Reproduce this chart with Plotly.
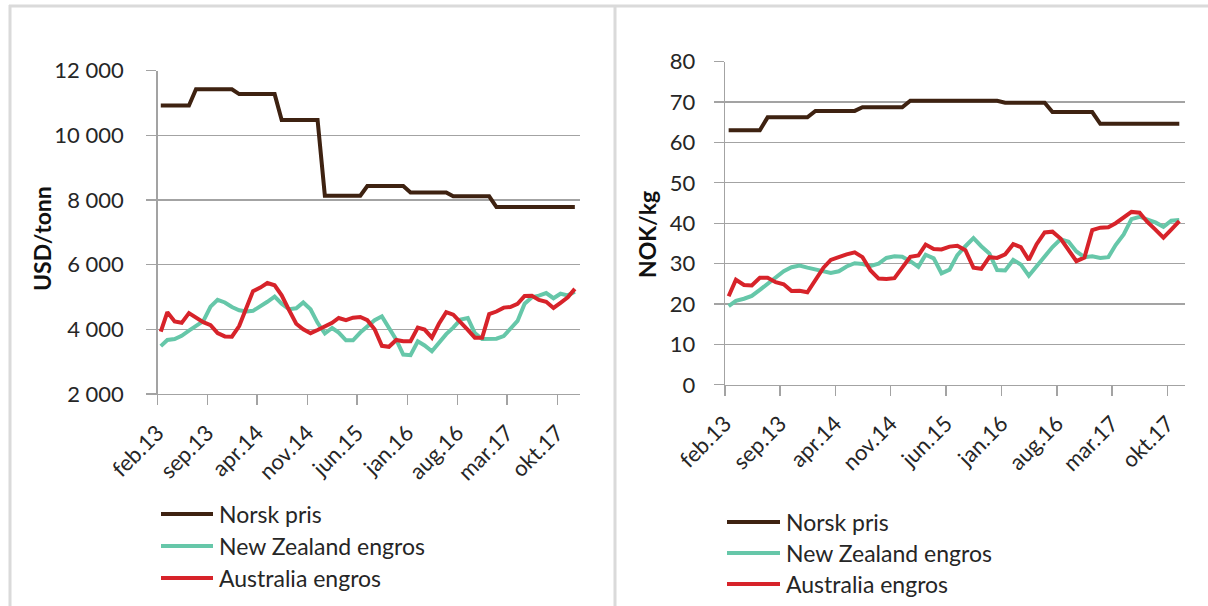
import pandas as pd
import plotly.graph_objects as go

W, H = 1208, 606

# ---------------- data ----------------
tick_text = ["feb.13", "sep.13", "apr.14", "nov.14", "jun.15", "jan.16", "aug.16", "mar.17", "okt.17"]
series_names = ["Norsk pris", "New Zealand engros", "Australia engros"]

# Left panel: USD/tonn, monthly feb.13 - des.17
usd_norsk = ([10920] * 5 + [11420] * 6 + [11270] * 6 + [10470] * 6 + [8130] * 6 +
             [8430] * 6 + [8230] * 6 + [8110] * 6 + [7780] * 12)
usd_nz = [3480, 3670, 3700, 3800, 3960, 4120, 4250, 4700, 4910, 4830,
          4690, 4590, 4550, 4570, 4700, 4850, 5010, 4790, 4620, 4650,
          4830, 4620, 4200, 3870, 4040, 3900, 3660, 3660, 3900, 4100,
          4280, 4400, 4070, 3680, 3220, 3200, 3630, 3500, 3320, 3600,
          3850, 4050, 4300, 4350, 3880, 3700, 3690, 3710, 3790, 4000,
          4260, 4790, 4990, 5040, 5120, 4960, 5100, 5050, 5160]
usd_au = [3930, 4530, 4240, 4200, 4500, 4350, 4220, 4130, 3880, 3780,
          3770, 4100, 4680, 5180, 5290, 5430, 5360, 5050, 4600, 4170,
          4000, 3880, 3980, 4100, 4200, 4350, 4280, 4360, 4380, 4280,
          4000, 3490, 3460, 3670, 3630, 3630, 4050, 3990, 3740, 4170,
          4530, 4450, 4230, 3980, 3740, 3740, 4470, 4550, 4670, 4690,
          4790, 5030, 5040, 4910, 4850, 4660, 4820, 4990, 5250]

# Right panel: NOK/kg, monthly feb.13 - nov.17
nok_norsk = ([63.0] * 5 + [66.2] * 6 + [67.8] * 6 + [68.7] * 6 + [70.3] * 12 +
             [69.8] * 6 + [67.5] * 6 + [64.6] * 11)
nok_nz = [19.5, 20.8, 21.3, 22.0, 23.5, 25.1, 26.5, 28.1, 29.1, 29.5,
          29.0, 28.6, 28.1, 27.7, 28.1, 29.3, 30.1, 29.9, 29.4, 30.0,
          31.4, 31.8, 31.7, 30.6, 29.2, 32.2, 31.3, 27.6, 28.5, 32.1,
          34.3, 36.3, 34.3, 32.5, 28.4, 28.3, 30.9, 29.8, 27.0, 29.3,
          31.8, 34.1, 36.0, 35.4, 33.0, 31.6, 31.8, 31.4, 31.6, 34.6,
          37.2, 41.0, 41.6, 41.0, 40.2, 39.1, 40.6, 40.8]
nok_au = [21.9, 26.0, 24.7, 24.6, 26.5, 26.5, 25.4, 24.9, 23.2, 23.3,
          22.9, 25.8, 29.0, 30.9, 31.7, 32.3, 32.8, 31.6, 28.3, 26.3,
          26.2, 26.4, 29.0, 31.7, 32.0, 34.7, 33.6, 33.5, 34.2, 34.4,
          33.3, 29.0, 28.7, 31.6, 31.4, 32.3, 34.8, 34.1, 30.9, 34.8,
          37.7, 37.9, 36.2, 33.5, 30.6, 31.5, 38.3, 38.9, 39.0, 40.0,
          41.4, 42.8, 42.6, 40.3, 38.4, 36.4, 38.4, 40.5]

colors = ["#3E2211", "#66C7A9", "#D7232A"]

def month_dates(n):
    return pd.date_range("2013-02-01", periods=n, freq="MS") + pd.Timedelta(days=14)

tick_vals = pd.date_range("2013-02-01", periods=len(tick_text), freq="7MS")

FONT = "Lato"
TXT = "#262626"
GRID = "#A3A3A3"

fig = go.Figure()

left = [usd_norsk, usd_nz, usd_au]
right = [nok_norsk, nok_nz, nok_au]
for vals, c in zip(left, colors):
    fig.add_trace(go.Scatter(x=month_dates(len(vals)), y=vals, mode="lines",
                             line=dict(color=c, width=4), xaxis="x", yaxis="y",
                             showlegend=False, hoverinfo="skip"))
for vals, c in zip(right, colors):
    fig.add_trace(go.Scatter(x=month_dates(len(vals)), y=vals, mode="lines",
                             line=dict(color=c, width=4), xaxis="x2", yaxis="y2",
                             showlegend=False, hoverinfo="skip"))

def xax(domain, rng, anchor):
    return dict(domain=domain, range=rng, anchor=anchor, type="date",
                tickmode="array", tickvals=tick_vals, ticktext=tick_text,
                tickangle=-45, ticks="outside", ticklen=10, tickcolor=GRID, tickwidth=1.3,
                showline=True, linecolor=GRID, linewidth=1.3, showgrid=False,
                zeroline=False, tickfont=dict(family=FONT, size=22, color=TXT),
                ticklabelstandoff=6, automargin=False, fixedrange=True)

def yax(domain, rng, dtick, anchor, standoff):
    return dict(domain=domain, range=rng, dtick=dtick, anchor=anchor,
                ticks="outside", ticklen=10, tickcolor=GRID, tickwidth=1.3,
                showline=True, linecolor=GRID, linewidth=1.3,
                showgrid=True, gridcolor=GRID, gridwidth=1.3, zeroline=False,
                tickformat=",d", tickfont=dict(family=FONT, size=22, color=TXT),
                ticklabelstandoff=standoff, automargin=False, fixedrange=True)

fig.update_layout(
    width=W, height=H, autosize=False,
    margin=dict(l=0, r=0, t=0, b=0, pad=0, autoexpand=False),
    paper_bgcolor="white", plot_bgcolor="white",
    separators=", ",
    xaxis=xax([157.5 / W, 580 / W], ["2013-02-01", "2018-01-06"], "y"),
    yaxis=yax([1 - 394 / H, 1 - 70.5 / H], [2000, 12000], 2000, "x", 18),
    xaxis2=xax([725 / W, 1184.5 / W], ["2013-02-01", "2017-12-05"], "y2"),
    yaxis2=yax([1 - 384.8 / H, 1 - 61.6 / H], [0, 80], 10, "x2", 14),
)

shapes = []
annotations = []
# panel borders
bc = "#DADADA"
shapes.append(dict(type="line", xref="paper", yref="paper", x0=9 / W, x1=1.0,
                   y0=1 - 6 / H, y1=1 - 6 / H, line=dict(color=bc, width=3)))
shapes.append(dict(type="line", xref="paper", yref="paper", x0=10 / W, x1=10 / W,
                   y0=0, y1=1 - 5 / H, line=dict(color=bc, width=3)))
shapes.append(dict(type="line", xref="paper", yref="paper", x0=615 / W, x1=615 / W,
                   y0=0, y1=1 - 5 / H, line=dict(color=bc, width=3)))

# axis titles
annotations.append(dict(text="<b>USD/tonn</b>", xref="paper", yref="paper",
                        x=42 / W, y=1 - 239 / H, textangle=-90, showarrow=False,
                        font=dict(family=FONT, size=23, color="#111111"),
                        xanchor="center", yanchor="middle"))
annotations.append(dict(text="<b>NOK/kg</b>", xref="paper", yref="paper",
                        x=647 / W, y=1 - 235 / H, textangle=-90, showarrow=False,
                        font=dict(family=FONT, size=23, color="#111111"),
                        xanchor="center", yanchor="middle"))

# legends
def legend(x0, x1, xt, ys):
    for name, c, yy in zip(series_names, colors, ys):
        shapes.append(dict(type="line", xref="paper", yref="paper",
                           x0=x0 / W, x1=x1 / W, y0=1 - yy / H, y1=1 - yy / H,
                           line=dict(color=c, width=4)))
        annotations.append(dict(text=name, xref="paper", yref="paper",
                                x=xt / W, y=1 - yy / H, showarrow=False,
                                xanchor="left", yanchor="middle",
                                font=dict(family=FONT, size=23, color=TXT)))

legend(161, 213, 217, [514, 546, 578])
legend(727, 780, 784, [522, 553, 584])

fig.update_layout(shapes=shapes, annotations=annotations)
fig.write_html("out.html", config={"displayModeBar": False, "staticPlot": True},
               post_script="document.body.style.margin='0';")
